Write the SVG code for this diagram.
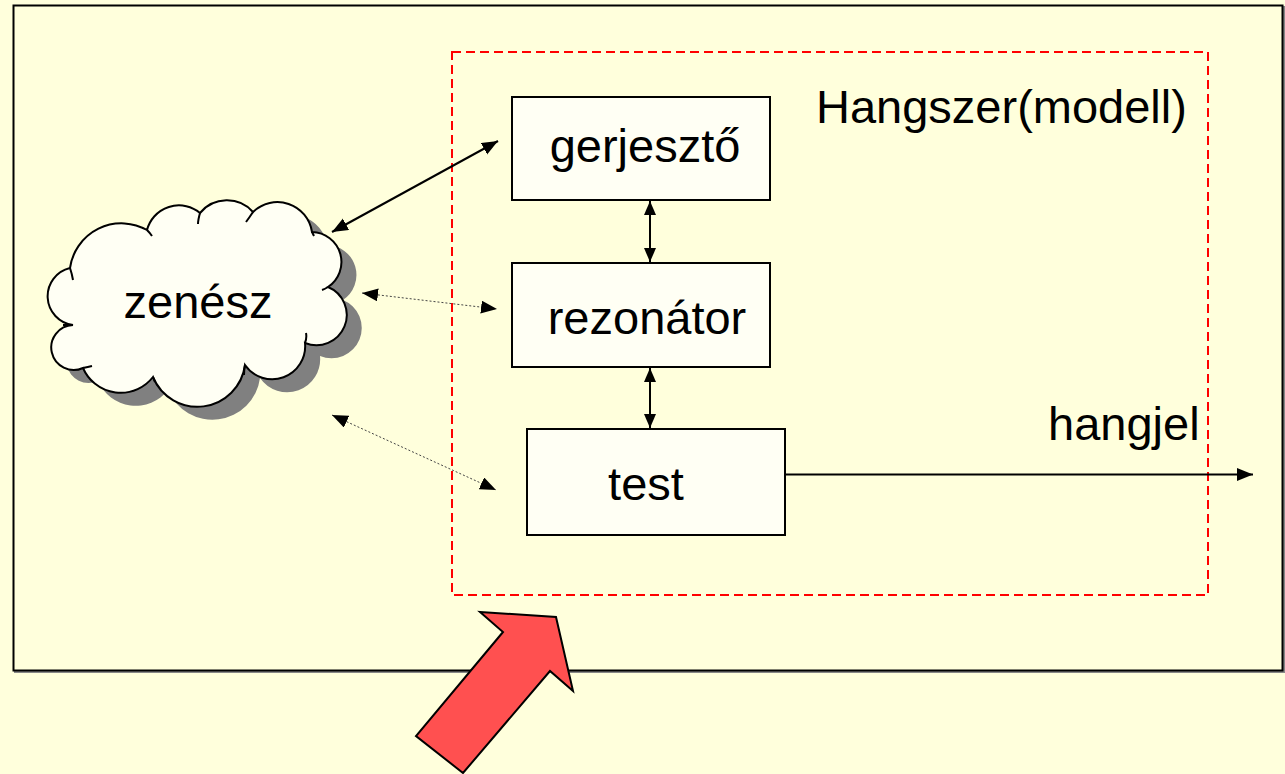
<svg xmlns="http://www.w3.org/2000/svg" width="1285" height="774" viewBox="0 0 1285 774">
<style>
.t{font-family:"Liberation Sans",Arial,sans-serif;font-size:47px;fill:#000}
.box{fill:#FFFFF4;stroke:#000;stroke-width:2}
.solid{stroke:#000;stroke-width:2;fill:none}
.dot{stroke:#444;stroke-width:1;stroke-dasharray:2,2;fill:none}
.curl{fill:none;stroke:#000;stroke-width:2}
</style>
<defs>
<marker id="ah" markerUnits="userSpaceOnUse" markerWidth="18" markerHeight="14" refX="16" refY="6.5" orient="auto-start-reverse">
<path d="M0,0 L16,6.5 L0,13 z" fill="#000"/>
</marker>
<marker id="ahs" markerUnits="userSpaceOnUse" markerWidth="16" markerHeight="14" refX="14" refY="6" orient="auto-start-reverse">
<path d="M0,0 L14,6 L0,12 z" fill="#000"/>
</marker>
<path id="cloudp" d="M70,268 A52,52 0 0 1 147,230 A33,33 0 0 1 200,213 A35,35 0 0 1 253,212 A35,35 0 0 1 312,232 A30,30 0 0 1 328,287 A30,30 0 0 1 305,343 A33,33 0 0 1 245,365 A48,48 0 0 1 153,377 A41,41 0 0 1 83,368 A22.5,22.5 0 1 1 73,325 A29,29 0 0 1 70,268 Z"/>
</defs>
<rect x="0" y="0" width="1285" height="774" fill="#FFFFDC"/>
<g id="frame">
<rect x="15" y="7" width="1269" height="665" fill="none" stroke="#888" stroke-width="2"/>
<rect x="13.5" y="5.5" width="1269" height="665" fill="#FFFFDC" stroke="#000" stroke-width="2"/>
</g>
<g id="instrument">
<rect x="452" y="52" width="756" height="543" fill="none" stroke="#FF0000" stroke-width="2" stroke-dasharray="9,5"/>
<text class="t" x="816" y="123">Hangszer(modell)</text>
</g>
<g id="zenesz">
<use href="#cloudp" transform="translate(15,13)" fill="#808080"/>
<use href="#cloudp" fill="#FFFFF4" stroke="#000" stroke-width="2"/>
<path class="curl" d="M147,230 Q150,233 152,236 M200,213 Q198,220 198,224 M253,212 Q249,218 246,222 M312,232 Q313,234 314,236 M328,287 Q325,289 322,290 M305,343 Q307,338 306,333 M245,365 Q244,370 244,375 M153,377 Q154,380 155,382 M83,368 Q88,367 92,366 M73,325 Q68,325 63,325 M70,268 Q72,274 73,280"/>
<text class="t" x="198" y="318" text-anchor="middle">zenész</text>
</g>
<g id="gerjeszto">
<rect class="box" x="512" y="97" width="258" height="103"/>
<text class="t" x="645" y="162" text-anchor="middle">gerjesztő</text>
</g>
<g id="rezonator">
<rect class="box" x="512" y="263" width="258" height="104"/>
<text class="t" x="647" y="334" text-anchor="middle">rezonátor</text>
</g>
<g id="test">
<rect class="box" x="527" y="429" width="258" height="106"/>
<text class="t" x="646" y="500" text-anchor="middle">test</text>
</g>
<g id="hangjel-label">
<text class="t" x="1048" y="440">hangjel</text>
</g>
<g id="connectors">
<line class="solid" x1="332" y1="232" x2="498" y2="141" marker-start="url(#ah)" marker-end="url(#ah)"/>
<line class="dot" x1="362" y1="293" x2="497" y2="309" marker-start="url(#ah)" marker-end="url(#ah)"/>
<line class="dot" x1="332" y1="415" x2="496" y2="490" marker-start="url(#ah)" marker-end="url(#ah)"/>
<line class="solid" x1="650" y1="201" x2="650" y2="262" marker-start="url(#ahs)" marker-end="url(#ahs)"/>
<line class="solid" x1="650" y1="368" x2="650" y2="428" marker-start="url(#ahs)" marker-end="url(#ahs)"/>
<line class="solid" x1="785" y1="474.5" x2="1253" y2="474.5" marker-end="url(#ah)"/>
</g>
<g id="big-arrow">
<polygon points="480,612 556,617 573,691 550,671 463,773 416,736 503,632" fill="#FF5050" stroke="#000" stroke-width="2" stroke-linejoin="miter"/>
</g>
</svg>
